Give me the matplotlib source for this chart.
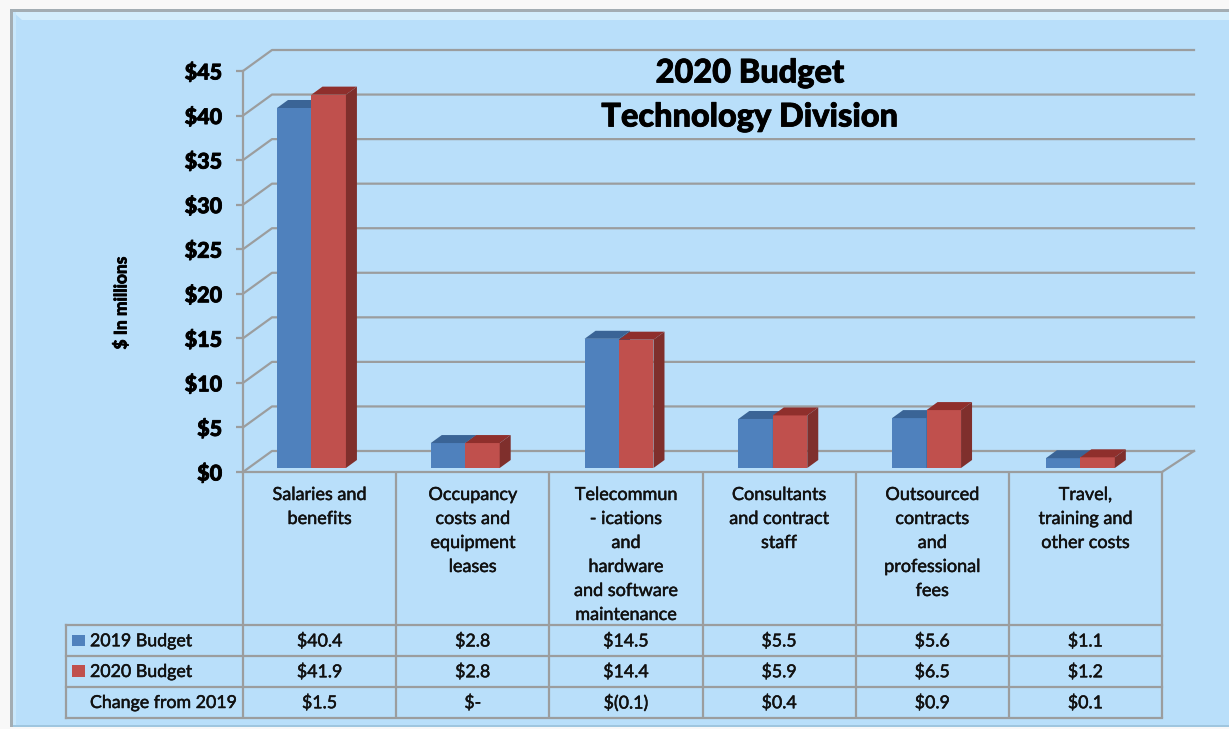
import matplotlib
matplotlib.use('Agg')
from matplotlib import pyplot as plt
from matplotlib import patheffects
from matplotlib.patches import Polygon, Rectangle

categories = ['Salaries and\nbenefits',
              'Occupancy\ncosts and\nequipment\nleases',
              'Telecommun\n- ications\nand\nhardware\nand software\nmaintenance',
              'Consultants\nand contract\nstaff',
              'Outsourced\ncontracts\nand\nprofessional\nfees',
              'Travel,\ntraining and\nother costs']
budget_2019 = [40.4, 2.8, 14.5, 5.5, 5.6, 1.1]
budget_2020 = [41.9, 2.8, 14.4, 5.9, 6.5, 1.2]
change_labels = ['$1.5', '$-', '$(0.1)', '$0.4', '$0.9', '$0.1']
row_names = ['2019 Budget', '2020 Budget', 'Change from 2019']
y_ticks = [0, 5, 10, 15, 20, 25, 30, 35, 40, 45]

PANEL = '#b9dffa'
GRID = '#9b9d9e'
BLUE = ('#4f81bd', '#3a6496', '#345a88')
RED = ('#c0504d', '#8f2f2c', '#7f2f2c')
FONT = 'Lato'
LW = 1.6

plt.rcParams['font.family'] = FONT

fig = plt.figure(figsize=(12.29, 7.29), dpi=100, facecolor='#f8f8f8')

# background in pixels, same numbers as the picture
bg = fig.add_axes([0, 0, 1, 1])
bg.set_xlim(0, 1229)
bg.set_ylim(729, 0)
bg.axis('off')
bg.add_patch(Rectangle((10, 9), 1219, 718, fc='#a3adb3', ec='none'))
bg.add_patch(Rectangle((13, 12), 1216, 714, fc=PANEL, ec='none'))
bg.add_patch(Polygon([(13, 12), (1229, 12), (1229, 20), (22, 20)], fc='#d3edfc', ec='none'))
bg.add_patch(Rectangle((13, 12), 3, 714, fc='#c8e7fb', ec='none'))
bg.add_patch(Rectangle((13, 725), 1216, 2, fc='#9fc6df', ec='none'))

# front plane of the chart: x 243-1162, $0 at 472, $45 at 71
W, H = 1229.0, 729.0
ax = fig.add_axes([243 / W, 1 - 472 / H, 919 / W, 401 / H])
ax.patch.set_alpha(0)
ax.set_xlim(0, 6)
ax.set_ylim(0, 45)
for s in ['top', 'right', 'bottom']:
    ax.spines[s].set_visible(False)
ax.spines['left'].set_color(GRID)
ax.spines['left'].set_linewidth(LW)

px_x = 6 / 919.0
px_y = 45 / 401.0

# back wall / side wall lines
wall_dx = 29 * px_x
wall_dy = 21 * px_y
for t in y_ticks:
    ax.plot([0, wall_dx, 6 + 32 * px_x], [t, t + wall_dy, t + wall_dy],
            color=GRID, lw=LW, clip_on=False, zorder=1)
ax.plot([6, 6 + 32 * px_x], [0, wall_dy], color=GRID, lw=LW, clip_on=False, zorder=1)
ax.plot([0, 6], [0, 0], color=GRID, lw=LW, clip_on=False, zorder=1)

heavy = [patheffects.withStroke(linewidth=0.6, foreground='black')]

ax.set_xticks([])
ax.set_yticks(y_ticks)
ax.set_yticklabels(['$%d' % t for t in y_ticks], fontsize=15.5, fontweight='black', color='black', path_effects=heavy)
ax.tick_params(axis='y', length=5, width=LW, color=GRID, pad=10)

# the bars, with their top and side faces
bar_w = 0.225
base = 4 * px_y
deep_x = 11 * px_x
deep_y = 8 * px_y


def draw_bar(x0, val, cols):
    top = base + val
    x1 = x0 + bar_w
    ax.bar(x0, val, bar_w, bottom=base, align='edge', color=cols[0], zorder=3, clip_on=False)
    ax.add_patch(Polygon([(x0, top), (x1, top), (x1 + deep_x, top + deep_y), (x0 + deep_x, top + deep_y)],
                         fc=cols[1], ec='none', zorder=3, clip_on=False))
    ax.add_patch(Polygon([(x1, base), (x1 + deep_x, base + deep_y), (x1 + deep_x, top + deep_y), (x1, top)],
                         fc=cols[2], ec='none', zorder=3, clip_on=False))


# bars sit on the floor, a bit wider apart than the table columns
for i in range(len(categories)):
    mid = i * 1.004 + 0.447
    draw_bar(mid - bar_w, budget_2019[i], BLUE)
    draw_bar(mid, budget_2020[i], RED)

# title and axis name
bg.text(750, 73, '2020 Budget', ha='center', va='center', fontsize=23.4, fontweight='black', zorder=5, path_effects=heavy)
bg.text(750, 117, 'Technology Division', ha='center', va='center', fontsize=23.4, fontweight='black', zorder=5, path_effects=heavy)
bg.text(121, 303, '$ In millions', ha='center', va='center', rotation=90, fontsize=12.5, fontweight='bold', path_effects=heavy)

# Lato has no semibold here, a thin stroke thickens the table text
thick = [patheffects.withStroke(linewidth=0.35, foreground='#111111')]

# data table under the chart
col_w = 919 / 6.0
col_x = [243 + i * col_w for i in range(7)]
row_y = [625, 655.5, 686.5, 717.5]
for i, x in enumerate(col_x):
    bg.plot([x, x], [472, 717.5], color=GRID, lw=LW, solid_capstyle='butt')
bg.plot([66, 66], [625, 717.5], color=GRID, lw=LW)
for y in row_y:
    bg.plot([66, 1162], [y, y], color=GRID, lw=LW)

for i, name in enumerate(categories):
    cx = col_x[i] + col_w / 2
    for j, line in enumerate(name.split('\n')):
        bg.text(cx, 495 + j * 24, line, ha='center', va='center', fontsize=13, color='#111111', path_effects=thick)
    mid_rows = [(row_y[k] + row_y[k + 1]) / 2 for k in range(3)]
    bg.text(cx, mid_rows[0] + 1, '$%.1f' % budget_2019[i], ha='center', va='center', fontsize=12.8, color='#111111', path_effects=thick)
    bg.text(cx, mid_rows[1] + 1, '$%.1f' % budget_2020[i], ha='center', va='center', fontsize=12.8, color='#111111', path_effects=thick)
    bg.text(cx, mid_rows[2] + 1, change_labels[i], ha='center', va='center', fontsize=12.8, color='#111111', path_effects=thick)

for k, name in enumerate(row_names):
    bg.text(90, (row_y[k] + row_y[k + 1]) / 2 + 1, name, ha='left', va='center', fontsize=12.8, color='#111111', path_effects=thick)
bg.add_patch(Rectangle((72, 635), 13, 11, fc=BLUE[0], ec='none'))
bg.add_patch(Rectangle((72, 665), 13, 12, fc=RED[0], ec='none'))

fig.savefig('out.png', dpi=100, facecolor=fig.get_facecolor())
